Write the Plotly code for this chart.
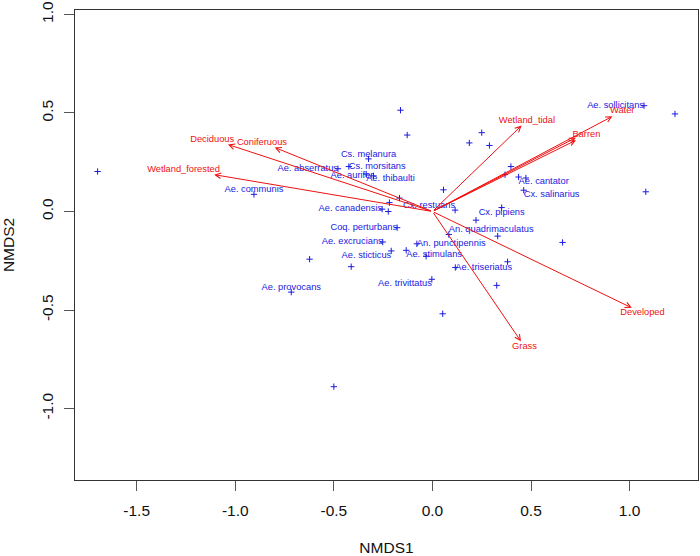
import plotly.graph_objects as go

# ---------------- data ----------------
# species site scores (NMDS1, NMDS2)
sp_x = [-1.698, -0.905, -0.162, -0.128, 0.250, 0.187, 0.289, -0.324, -0.424, -0.479,
        -0.299, -0.336, 0.056, -0.167, -0.218, -0.255, -0.224, 0.115, 0.221, 0.398,
        0.368, 0.437, 0.474, 0.463, 1.073, 1.230, 1.082, 0.351, 0.083, 0.331,
        0.660, 0.381, 0.116, 0.326, 0.052, -0.179, -0.252, -0.079, -0.209, -0.133,
        -0.032, -0.623, -0.412, -0.003, -0.716, -0.500]
sp_y = [0.203, 0.087, 0.514, 0.388, 0.400, 0.348, 0.335, 0.267, 0.228, 0.217,
        0.181, 0.190, 0.110, 0.068, 0.045, 0.012, 0.000, 0.007, -0.044, 0.228,
        0.187, 0.175, 0.170, 0.108, 0.537, 0.495, 0.100, 0.020, -0.117, -0.125,
        -0.157, -0.255, -0.284, -0.375, -0.519, -0.082, -0.155, -0.164, -0.200, -0.197,
        -0.227, -0.242, -0.280, -0.344, -0.409, -0.889]
sp_labels = ["", "Ae. communis", "", "", "", "", "", "Cs. melanura", "Cs. morsitans", "Ae. abserratus",
             "Ae. aurifer", "Ae. thibaulti", "", "", "", "Ae. canadensis", "", "Cx. restuans", "", "",
             "", "Ae. cantator", "", "Cx. salinarius", "Ae. sollicitans", "", "", "Cx. pipiens", "An. quadrimaculatus", "",
             "", "", "Ae. triseriatus", "", "", "Coq. perturbans", "Ae. excrucians", "An. punctipennis", "Ae. sticticus", "Ae. stimulans",
             "", "", "", "Ae. trivittatus", "Ae. provocans", ""]
# label placement (ordipointlabel-style side of the point)
sp_textpos = ["middle center", "top center", "middle center", "middle center", "middle center", "middle center", "middle center", "top center", "middle right", "middle left",
              "middle left", "bottom right", "middle center", "middle center", "middle center", "middle left", "middle center", "top left", "middle center", "middle center",
              "middle center", "bottom right", "middle center", "bottom right", "middle left", "middle center", "middle center", "bottom center", "top right", "middle center",
              "middle center", "middle center", "middle right", "middle center", "middle center", "middle left", "middle left", "middle right", "bottom left", "bottom right",
              "middle center", "middle center", "middle center", "bottom left", "top center", "middle center"]

# environmental fitted vectors
env_labels = ["Deciduous", "Coniferuous", "Wetland_forested", "Wetland_tidal", "Water",
              "", "Barren", "Developed", "Grass"]
env_x = [-1.037, -0.800, -1.107, 0.452, 0.913, 0.728, 0.728, 1.011, 0.449]
env_y = [0.340, 0.325, 0.187, 0.436, 0.483, 0.375, 0.362, -0.489, -0.659]

x_tickvals = [-1.5, -1.0, -0.5, 0.0, 0.5, 1.0]
x_ticktext = ["-1.5", "-1.0", "-0.5", "0.0", "0.5", "1.0"]
y_tickvals = [-1.0, -0.5, 0.0, 0.5, 1.0]
y_ticktext = ["-1.0", "-0.5", "0.0", "0.5", "1.0"]

# ---------------- layout constants ----------------
W, H = 700, 556
ML, MR, MT, MB = 75, 1, 3, 76
XR = [-1.8127, 1.3468]
YR = [-1.3625, 1.0225]
FONT = "Liberation Sans, Arial, sans-serif"
LAB_SIZE = 9.3
BLUE = "#1a1ae0"
RED = "#ee1111"

px_per_x = (W - ML - MR) / (XR[1] - XR[0])
px_per_y = (H - MT - MB) / (YR[1] - YR[0])

# vegan ordiArrowTextXY-like label placement beyond arrow heads
def arrow_label_xy(vx, vy, lab):
    w = len(lab) * 4.2 / px_per_x
    h = 7.0 / px_per_y
    offx = (1 if vx >= 0 else -1) * (w / 2 + h / 4)
    offy = 0.75 * h * (1 if vy >= 0 else -1)
    b = vy / vx
    move = offy / b
    if abs(move) <= abs(offx):
        offx = move
    else:
        offy = b * offx
    return vx + offx, vy + offy

lab_xy = [arrow_label_xy(x, y, l) for x, y, l in zip(env_x, env_y, env_labels)]

fig = go.Figure()

# species points
fig.add_trace(go.Scatter(
    x=sp_x, y=sp_y, mode="markers",
    marker=dict(symbol="cross-thin", size=4.5, color=BLUE,
                line=dict(color=BLUE, width=1)),
    hoverinfo="skip", showlegend=False))
# species labels
fig.add_trace(go.Scatter(
    x=sp_x, y=sp_y, mode="text", text=sp_labels, textposition=sp_textpos,
    textfont=dict(family=FONT, size=LAB_SIZE, color=BLUE),
    hoverinfo="skip", showlegend=False))
# env labels
fig.add_trace(go.Scatter(
    x=[p[0] for p in lab_xy], y=[p[1] for p in lab_xy], mode="text",
    text=env_labels, textposition="middle center",
    textfont=dict(family=FONT, size=LAB_SIZE, color=RED),
    hoverinfo="skip", showlegend=False))

# env arrows
for vx, vy in zip(env_x, env_y):
    fig.add_annotation(x=vx, y=vy, ax=0, ay=0, xref="x", yref="y",
                       axref="x", ayref="y", text="", showarrow=True,
                       arrowhead=5, arrowsize=1.1, arrowwidth=1,
                       arrowcolor=RED, standoff=0, startstandoff=0)

axis_common = dict(showgrid=False, zeroline=False, showline=True, mirror=True,
                   linecolor="#333333", linewidth=1, ticks="outside", ticklen=10,
                   tickcolor="#555555", tickwidth=1, ticklabeloverflow="allow",
                   tickfont=dict(family=FONT, size=15.5, color="#111111"))

fig.update_layout(
    width=W, height=H,
    margin=dict(l=ML, r=MR, t=MT, b=MB),
    paper_bgcolor="white", plot_bgcolor="white",
    font=dict(family=FONT),
    xaxis=dict(range=XR, tickvals=x_tickvals, ticktext=x_ticktext,
               ticklabelstandoff=6,
               title=dict(text="NMDS1", font=dict(family=FONT, size=15.5, color="#111111"),
                          standoff=26),
               **axis_common),
    yaxis=dict(range=YR, tickvals=y_tickvals, ticktext=y_ticktext,
               tickangle=-90, ticklabelstandoff=5,
               title=dict(text="NMDS2", font=dict(family=FONT, size=15.5, color="#111111"),
                          standoff=22),
               **axis_common),
)

fig.write_html("out.html",
               config={"displayModeBar": False},
               post_script="document.body.style.margin='0px';document.body.style.padding='0px';")
